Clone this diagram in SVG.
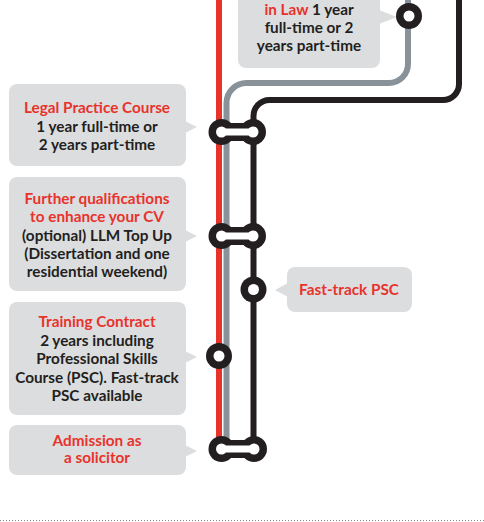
<svg xmlns="http://www.w3.org/2000/svg" width="484" height="522" viewBox="0 0 484 522">
<defs>
<style>
.box{fill:#dcdddf}
.t{font-family:"Lato","Open Sans",sans-serif;font-size:15.3px;font-weight:700;text-anchor:middle;fill:#231f20}
.r{fill:#e8332b}
.line{fill:none;stroke-width:6}
.st{fill:#231f20}
.hole{fill:#fff}
</style>
</defs>
<rect width="484" height="522" fill="#fff"/>
<g id="connectors">
<path class="line" stroke="#e8332b" d="M219,0 V449"/>
<path class="line" stroke="#8a9299" d="M226.5,449 V103 A20 20 0 0 1 246.5,83 H389 A19 19 0 0 0 408,64 V0"/>
<path class="line" stroke="#231f20" d="M253.5,449 V116 A16 16 0 0 1 269.5,100 H443 A16 16 0 0 0 459,84 V0"/>
</g>
<g id="node-law">
<rect class="box" x="238" y="-20" width="142" height="88" rx="8"/>
<path class="box" d="M379,10 L397,17 L379,24 Z"/>
<text class="t" x="309" y="15"><tspan class="r">in Law</tspan> 1 year</text>
<text class="t" x="309" y="33">full-time or 2</text>
<text class="t" x="309" y="51">years part-time</text>
<circle class="st" cx="409" cy="16" r="13"/>
<circle class="hole" cx="409" cy="16" r="5.5"/>
</g>
<g id="node-lpc">
<rect class="box" x="9" y="84" width="177" height="82" rx="8"/>
<path class="box" d="M185,121 L197,127 L185,133 Z"/>
<text class="t r" x="97" y="113">Legal Practice Course</text>
<text class="t" x="97" y="132">1 year full-time or</text>
<text class="t" x="97" y="150">2 years part-time</text>
<line x1="221.5" y1="132" x2="253" y2="132" stroke="#231f20" stroke-width="18"/>
<circle class="st" cx="221.5" cy="132" r="13"/>
<circle class="st" cx="253" cy="132" r="13"/>
<line x1="221.5" y1="132" x2="253" y2="132" stroke="#fff" stroke-width="7" stroke-linecap="round"/>
<circle class="hole" cx="221.5" cy="132" r="5.5"/>
<circle class="hole" cx="253" cy="132" r="5.5"/>
</g>
<g id="node-further">
<rect class="box" x="9" y="177" width="177" height="114" rx="8"/>
<path class="box" d="M185,230 L197,236 L185,242 Z"/>
<text class="t r" x="97" y="204">Further qualifications</text>
<text class="t r" x="97" y="222">to enhance your CV</text>
<text class="t" x="97" y="241">(optional) LLM Top Up</text>
<text class="t" x="97" y="259">(Dissertation and one</text>
<text class="t" x="97" y="277">residential weekend)</text>
<line x1="221.5" y1="236" x2="253" y2="236" stroke="#231f20" stroke-width="18"/>
<circle class="st" cx="221.5" cy="236" r="13"/>
<circle class="st" cx="253" cy="236" r="13"/>
<line x1="221.5" y1="236" x2="253" y2="236" stroke="#fff" stroke-width="7" stroke-linecap="round"/>
<circle class="hole" cx="221.5" cy="236" r="5.5"/>
<circle class="hole" cx="253" cy="236" r="5.5"/>
</g>
<g id="node-fasttrack">
<rect class="box" x="287" y="267" width="125" height="45" rx="8"/>
<path class="box" d="M288,283 L275,290 L288,297 Z"/>
<text class="t r" x="349" y="295">Fast-track PSC</text>
<circle class="st" cx="253.5" cy="289.5" r="13"/>
<circle class="hole" cx="253.5" cy="289.5" r="5.5"/>
</g>
<g id="node-training">
<rect class="box" x="9" y="302" width="177" height="113" rx="8"/>
<path class="box" d="M185,351 L197,357 L185,363 Z"/>
<text class="t r" x="97" y="327">Training Contract</text>
<text class="t" x="97" y="346">2 years including</text>
<text class="t" x="97" y="364">Professional Skills</text>
<text class="t" x="97" y="383">Course (PSC). Fast-track</text>
<text class="t" x="97" y="401">PSC available</text>
<circle class="st" cx="219" cy="356" r="13"/>
<circle class="hole" cx="219" cy="356" r="5.5"/>
</g>
<g id="node-admission">
<rect class="box" x="9" y="425" width="177" height="50" rx="8"/>
<path class="box" d="M185,445 L197,451 L185,457 Z"/>
<text class="t r" x="97" y="446">Admission as</text>
<text class="t r" x="97" y="463">a solicitor</text>
<line x1="221.5" y1="449" x2="254" y2="449" stroke="#231f20" stroke-width="18"/>
<circle class="st" cx="221.5" cy="449" r="13"/>
<circle class="st" cx="254" cy="449" r="13"/>
<line x1="221.5" y1="449" x2="254" y2="449" stroke="#fff" stroke-width="7" stroke-linecap="round"/>
<circle class="hole" cx="221.5" cy="449" r="5.5"/>
<circle class="hole" cx="254" cy="449" r="5.5"/>
</g>
<line x1="0" y1="520.5" x2="484" y2="520.5" stroke="#8a8a8a" stroke-width="1" stroke-dasharray="1 2"/>
</svg>
